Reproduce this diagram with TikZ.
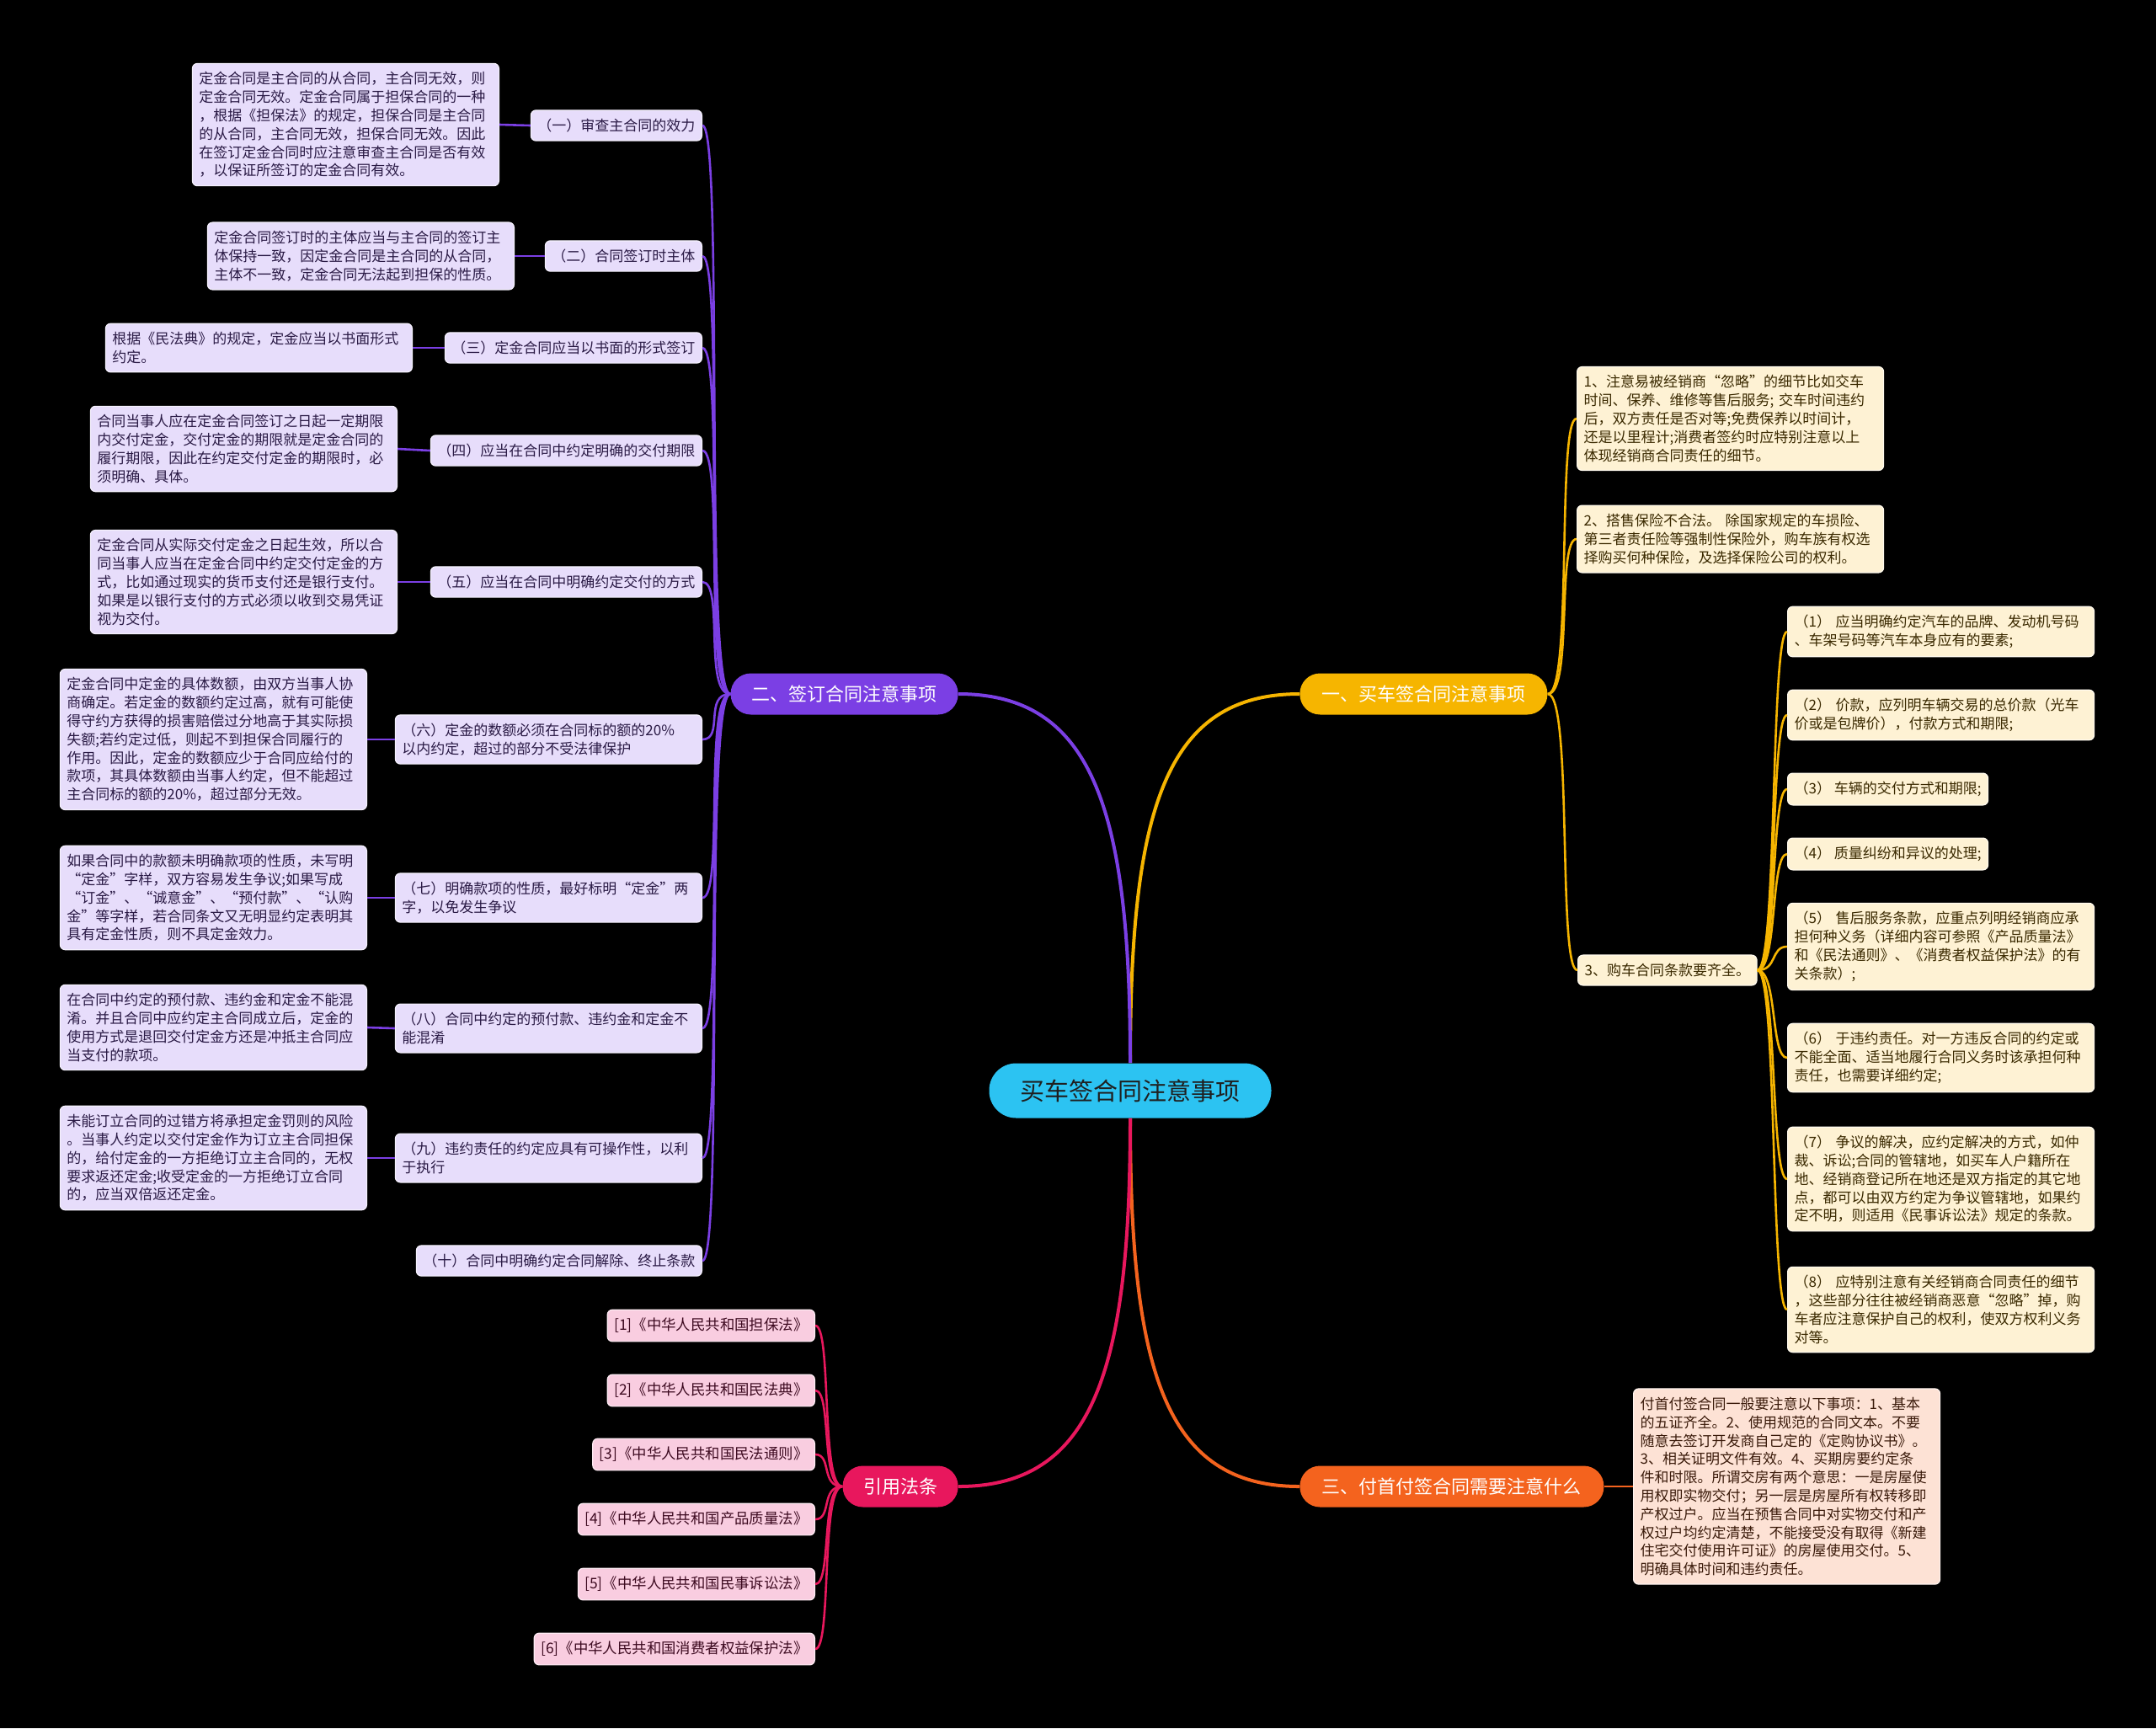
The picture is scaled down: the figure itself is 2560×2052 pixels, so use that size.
\documentclass[tikz,border=0pt]{standalone}
\usepackage{fontspec}
\setmainfont{Noto Sans CJK SC}
\usetikzlibrary{positioning}
\definecolor{bgc}{HTML}{000000}
\definecolor{cyanc}{HTML}{2CC3F2}
\definecolor{purc}{HTML}{7B3FE4}
\definecolor{yelc}{HTML}{F6B500}
\definecolor{orac}{HTML}{F4631E}
\definecolor{redc}{HTML}{E8175D}
\definecolor{lavf}{HTML}{E7DDFB}
\definecolor{lavt}{HTML}{2A1A45}
\definecolor{crmf}{HTML}{FEF2D4}
\definecolor{crmt}{HTML}{3A2900}
\definecolor{pchf}{HTML}{FDE2D5}
\definecolor{pcht}{HTML}{3A1A0A}
\definecolor{pnkf}{HTML}{F9CDE0}
\definecolor{pnkt}{HTML}{3D0A20}
\tikzset{
  box/.style={rectangle, rounded corners=3pt, inner xsep=4pt, inner ysep=5pt,
    font=\fontsize{8.5}{10.9}\selectfont, align=left, line width=0.6pt},
  wbox/.style={box, text width=174pt},
  pbox/.style={box, fill=lavf, draw=white!60!lavf, text=lavt},
  pwbox/.style={wbox, fill=lavf, draw=white!60!lavf, text=lavt},
  ybox/.style={box, fill=crmf, draw=white!60!crmf, text=crmt},
  ywbox/.style={wbox, fill=crmf, draw=white!60!crmf, text=crmt},
  owbox/.style={wbox, fill=pchf, draw=white!60!pchf, text=pcht},
  kbox/.style={box, fill=pnkf, draw=white!60!pnkf, text=pnkt, font=\fontsize{8.7}{11}\selectfont},
  branch/.style={rectangle, rounded corners=12pt, minimum height=24.5pt, inner xsep=9pt,
    text=white, font=\fontsize{11}{13}\selectfont},
  mainline/.style={line width=2pt},
  subline/.style={line width=1.3pt},
}
\begin{document}
\begin{tikzpicture}[x=0.5pt,y=-0.5pt]
\useasboundingbox (0,0) rectangle (2560,2052);
\fill[bgc] (0,0) rectangle (2560,2052);

% center and branches
\node[rectangle, rounded corners=16pt, fill=cyanc, minimum width=167.5pt, minimum height=32.5pt,
  text=black!88, font=\fontsize{14.5}{16}\selectfont] (c) at (1342,1295) {买车签合同注意事项};
\node[branch, fill=yelc, anchor=west, minimum width=147pt] (b1) at (1543,824) {一、买车签合同注意事项};
\node[branch, fill=purc, anchor=east, minimum width=135pt] (b2) at (1138,824) {二、签订合同注意事项};
\node[branch, fill=orac, anchor=west, minimum width=180.5pt] (b3) at (1543,1765) {三、付首付签合同需要注意什么};
\node[branch, fill=redc, anchor=east, minimum width=68.5pt] (b4) at (1138,1765) {引用法条};

\draw[mainline, yelc] (c.north) .. controls +(0,-300) and +(-160,0) .. (b1.west);
\draw[mainline, purc] (c.north) .. controls +(0,-300) and +(160,0) .. (b2.east);
\draw[mainline, orac] (c.south) .. controls +(0,300) and +(-160,0) .. (b3.west);
\draw[mainline, redc] (c.south) .. controls +(0,300) and +(160,0) .. (b4.east);

% ---- purple sub nodes
\node[pbox, anchor=east] (s1) at (834,149) {（一）审查主合同的效力};
\node[pbox, anchor=east] (s2) at (834,304) {（二）合同签订时主体};
\node[pbox, anchor=east] (s3) at (834,413) {（三）定金合同应当以书面的形式签订};
\node[pbox, anchor=east] (s4) at (834,535) {（四）应当在合同中约定明确的交付期限};
\node[pbox, anchor=east] (s5) at (834,691) {（五）应当在合同中明确约定交付的方式};
\node[pwbox, anchor=east] (s6) at (834,878) {（六）定金的数额必须在合同标的额的20\%\\以内约定，超过的部分不受法律保护};
\node[pwbox, anchor=east] (s7) at (834,1066) {（七）明确款项的性质，最好标明“定金”两\\字，以免发生争议};
\node[pwbox, anchor=east] (s8) at (834,1221) {（八）合同中约定的预付款、违约金和定金不\\能混淆};
\node[pwbox, anchor=east] (s9) at (834,1375) {（九）违约责任的约定应具有可操作性，以利\\于执行};
\node[pbox, anchor=east] (s10) at (834,1497) {（十）合同中明确约定合同解除、终止条款};

% ---- purple leaves
\node[pwbox, anchor=east] (l1) at (593,148) {定金合同是主合同的从合同，主合同无效，则\\定金合同无效。定金合同属于担保合同的一种\\，根据《担保法》的规定，担保合同是主合同\\的从合同，主合同无效，担保合同无效。因此\\在签订定金合同时应注意审查主合同是否有效\\，以保证所签订的定金合同有效。};
\node[pwbox, anchor=east] (l2) at (611,304) {定金合同签订时的主体应当与主合同的签订主\\体保持一致，因定金合同是主合同的从合同，\\主体不一致，定金合同无法起到担保的性质。};
\node[pwbox, anchor=east] (l3) at (490,413) {根据《民法典》的规定，定金应当以书面形式\\约定。};
\node[pwbox, anchor=east] (l4) at (472,533) {合同当事人应在定金合同签订之日起一定期限\\内交付定金，交付定金的期限就是定金合同的\\履行期限，因此在约定交付定金的期限时，必\\须明确、具体。};
\node[pwbox, anchor=east] (l5) at (472,691) {定金合同从实际交付定金之日起生效，所以合\\同当事人应当在定金合同中约定交付定金的方\\式，比如通过现实的货币支付还是银行支付。\\如果是以银行支付的方式必须以收到交易凭证\\视为交付。};
\node[pwbox, anchor=east] (l6) at (436,878) {定金合同中定金的具体数额，由双方当事人协\\商确定。若定金的数额约定过高，就有可能使\\得守约方获得的损害赔偿过分地高于其实际损\\失额;若约定过低，则起不到担保合同履行的\\作用。因此，定金的数额应少于合同应给付的\\款项，其具体数额由当事人约定，但不能超过\\主合同标的额的20\%，超过部分无效。};
\node[pwbox, anchor=east] (l7) at (436,1066) {如果合同中的款额未明确款项的性质，未写明\\“定金”字样，双方容易发生争议;如果写成\\“订金”、“诚意金”、“预付款”、“认购\\金”等字样，若合同条文又无明显约定表明其\\具有定金性质，则不具定金效力。};
\node[pwbox, anchor=east] (l8) at (436,1220) {在合同中约定的预付款、违约金和定金不能混\\淆。并且合同中应约定主合同成立后，定金的\\使用方式是退回交付定金方还是冲抵主合同应\\当支付的款项。};
\node[pwbox, anchor=east] (l9) at (436,1375) {未能订立合同的过错方将承担定金罚则的风险\\。当事人约定以交付定金作为订立主合同担保\\的，给付定金的一方拒绝订立主合同的，无权\\要求返还定金;收受定金的一方拒绝订立合同\\的，应当双倍返还定金。};

\foreach \i in {1,...,10} {
  \draw[subline, purc] (b2.west) .. controls +(-32,0) and +(26,0) .. (s\i.east);
}
\foreach \i in {1,...,9} {
  \draw[subline, purc] (s\i.west) -- (l\i.east);
}

% ---- yellow
\node[ywbox, anchor=west] (y1) at (1872,497) {1、注意易被经销商“忽略”的细节比如交车\\时间、保养、维修等售后服务; 交车时间违约\\后，双方责任是否对等;免费保养以时间计，\\还是以里程计;消费者签约时应特别注意以上\\体现经销商合同责任的细节。};
\node[ywbox, anchor=west] (y2) at (1872,640) {2、搭售保险不合法。 除国家规定的车损险、\\第三者责任险等强制性保险外，购车族有权选\\择购买何种保险，及选择保险公司的权利。};
\node[ybox, anchor=west] (y3) at (1873,1152) {3、购车合同条款要齐全。};

\node[ywbox, anchor=west] (t1) at (2122,750) {（1） 应当明确约定汽车的品牌、发动机号码\\、车架号码等汽车本身应有的要素;};
\node[ywbox, anchor=west] (t2) at (2122,849) {（2） 价款，应列明车辆交易的总价款（光车\\价或是包牌价），付款方式和期限;};
\node[ybox, anchor=west] (t3) at (2122,937) {（3） 车辆的交付方式和期限;};
\node[ybox, anchor=west] (t4) at (2122,1014) {（4） 质量纠纷和异议的处理;};
\node[ywbox, anchor=west] (t5) at (2122,1124) {（5） 售后服务条款，应重点列明经销商应承\\担何种义务（详细内容可参照《产品质量法》\\和《民法通则》、《消费者权益保护法》的有\\关条款）;};
\node[ywbox, anchor=west] (t6) at (2122,1256) {（6） 于违约责任。对一方违反合同的约定或\\不能全面、适当地履行合同义务时该承担何种\\责任，也需要详细约定;};
\node[ywbox, anchor=west] (t7) at (2122,1400) {（7） 争议的解决，应约定解决的方式，如仲\\裁、诉讼;合同的管辖地，如买车人户籍所在\\地、经销商登记所在地还是双方指定的其它地\\点，都可以由双方约定为争议管辖地，如果约\\定不明，则适用《民事诉讼法》规定的条款。};
\node[ywbox, anchor=west] (t8) at (2122,1555) {（8） 应特别注意有关经销商合同责任的细节\\，这些部分往往被经销商恶意“忽略”掉，购\\车者应注意保护自己的权利，使双方权利义务\\对等。};

\foreach \i in {1,2,3} {
  \draw[subline, yelc] (b1.east) .. controls +(30,0) and +(-24,0) .. (y\i.west);
}
\foreach \i in {1,...,8} {
  \draw[subline, yelc] (y3.east) .. controls +(24,0) and +(-20,0) .. (t\i.west);
}

% ---- orange
\node[owbox, anchor=west] (o1) at (1939,1765) {付首付签合同一般要注意以下事项：1、基本\\的五证齐全。2、使用规范的合同文本。不要\\随意去签订开发商自己定的《定购协议书》。\\3、相关证明文件有效。4、买期房要约定条\\件和时限。所谓交房有两个意思：一是房屋使\\用权即实物交付；另一层是房屋所有权转移即\\产权过户。应当在预售合同中对实物交付和产\\权过户均约定清楚，不能接受没有取得《新建\\住宅交付使用许可证》的房屋使用交付。5、\\明确具体时间和违约责任。};
\draw[subline, orac] (b3.east) -- (o1.west);

% ---- pink
\node[kbox, anchor=east] (k1) at (968,1574) {[1]《中华人民共和国担保法》};
\node[kbox, anchor=east] (k2) at (968,1651) {[2]《中华人民共和国民法典》};
\node[kbox, anchor=east] (k3) at (968,1727) {[3]《中华人民共和国民法通则》};
\node[kbox, anchor=east] (k4) at (968,1804) {[4]《中华人民共和国产品质量法》};
\node[kbox, anchor=east] (k5) at (968,1881) {[5]《中华人民共和国民事诉讼法》};
\node[kbox, anchor=east] (k6) at (968,1958) {[6]《中华人民共和国消费者权益保护法》};
\foreach \i in {1,...,6} {
  \draw[subline, redc] (b4.west) .. controls +(-26,0) and +(20,0) .. (k\i.east);
}
\end{tikzpicture}
\end{document}
